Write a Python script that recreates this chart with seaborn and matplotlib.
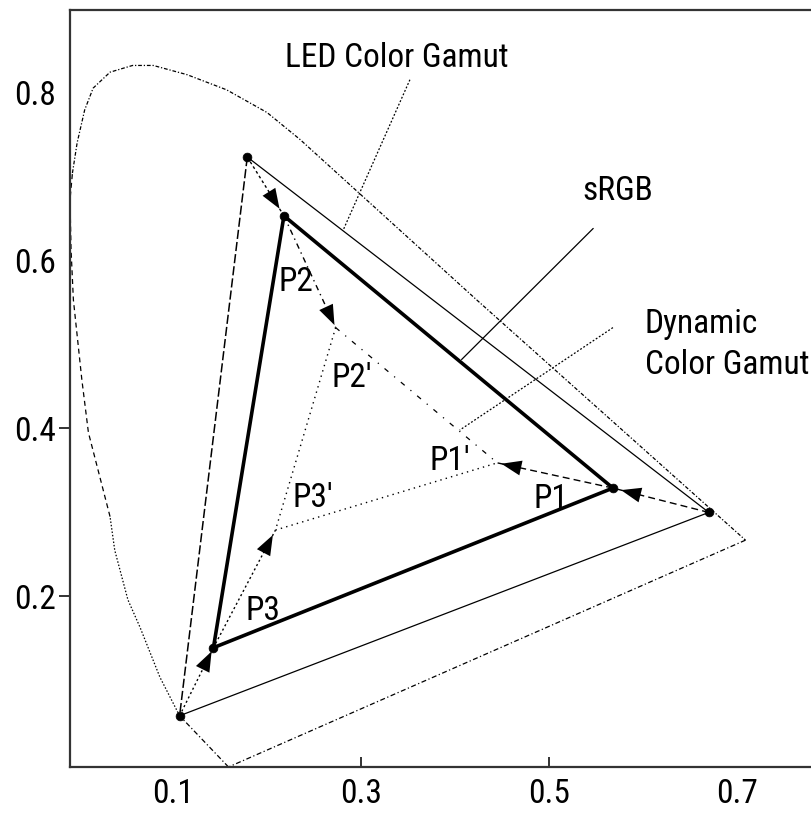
import matplotlib
matplotlib.use("Agg")
import matplotlib.pyplot as plt
from matplotlib import font_manager
import seaborn as sns

# spectral locus, traced clockwise from the violet end
locus_x = [0.159, 0.107, 0.086, 0.065, 0.052, 0.038, 0.033, 0.010, 0.003, -0.006,
           -0.0085, -0.0096, -0.007, -0.002, 0.006, 0.015, 0.033, 0.057, 0.079, 0.115,
           0.157, 0.200, 0.235, 0.423, 0.709, 0.159]
locus_y = [-0.003, 0.058, 0.104, 0.163, 0.196, 0.255, 0.295, 0.395, 0.458, 0.553,
           0.613, 0.672, 0.704, 0.740, 0.779, 0.805, 0.824, 0.832, 0.832, 0.821,
           0.803, 0.776, 0.744, 0.553, 0.267, -0.003]

# triangle vertices: red, green, blue
led_x = [0.670, 0.179, 0.107]
led_y = [0.300, 0.723, 0.058]
srgb_x = [0.568, 0.218, 0.143]
srgb_y = [0.329, 0.653, 0.139]
dyn_x = [0.445, 0.273, 0.209]
dyn_y = [0.359, 0.520, 0.279]

# leader lines for the labels
leaders = {
    "LED Color Gamut": ([0.352, 0.281], [0.815, 0.636]),
    "sRGB": ([0.547, 0.407], [0.638, 0.482]),
    "Dynamic Color Gamut": ([0.568, 0.405], [0.520, 0.398]),
}

x_ticks = [0.1, 0.3, 0.5, 0.7]
y_ticks = [0.2, 0.4, 0.6, 0.8]

sns.set_style("ticks")
installed = {f.name for f in font_manager.fontManager.ttflist}
narrow = [n for n in ["Liberation Sans Narrow", "Roboto Condensed", "DejaVu Sans Condensed"]
          if n in installed]
if narrow:
    plt.rcParams["font.family"] = [narrow[0], "DejaVu Sans"]
    fs, tfs = 24, 24
else:
    plt.rcParams["font.family"] = ["Liberation Sans", "DejaVu Sans"]
    fs, tfs = 21, 21
plt.rcParams["text.color"] = "black"
plt.rcParams["xtick.labelcolor"] = "black"
plt.rcParams["ytick.labelcolor"] = "black"

fig = plt.figure(figsize=(8.11, 8.14), dpi=100)
ax = fig.add_axes([70 / 811, 47 / 814, 741 / 811, 757 / 814])

# locus drawn in pieces, each with its own dash pattern
segments = [
    (0, 1, (0, (4, 2, 1, 2))),
    (1, 6, (0, (1.2, 1.5))),
    (6, 12, (0, (4, 3))),
    (12, 24, (0, (3, 1.5, 1, 1.5))),
    (24, 25, (0, (4, 2, 1, 2))),
]
for a, b, ls in segments:
    sns.lineplot(x=locus_x[a:b + 1], y=locus_y[a:b + 1], sort=False, estimator=None,
                 color="k", linewidth=0.9, linestyle=ls, ax=ax)

# LED gamut triangle
ax.plot([led_x[1], led_x[2]], [led_y[1], led_y[2]], color="k", lw=1.1, ls=(0, (6, 2)))
ax.plot([led_x[1], led_x[0]], [led_y[1], led_y[0]], color="k", lw=0.9)
ax.plot([led_x[2], led_x[0]], [led_y[2], led_y[0]], color="k", lw=0.9)

# sRGB triangle, bold
sns.lineplot(x=srgb_x + srgb_x[:1], y=srgb_y + srgb_y[:1], sort=False, estimator=None,
             color="k", linewidth=2.6, ax=ax)

# dynamic gamut triangle
ax.plot([dyn_x[1], dyn_x[0]], [dyn_y[1], dyn_y[0]], color="k", lw=0.9, ls=(0, (4, 6, 1, 6)))
ax.plot([dyn_x[1], dyn_x[2]], [dyn_y[1], dyn_y[2]], color="k", lw=1, ls=(0, (1, 3)))
ax.plot([dyn_x[2], dyn_x[0]], [dyn_y[2], dyn_y[0]], color="k", lw=1, ls=(0, (1, 3)))


def arrow(x0, y0, x1, y1, ls, shrink):
    # shaft drawn as a styled line, head as a solid filled triangle
    ax.plot([x0, x1], [y0, y1], color="k", lw=1, ls=ls)
    ax.annotate("", xy=(x1, y1), xytext=(x0, y0),
                arrowprops=dict(arrowstyle="-|>,head_length=0.8,head_width=0.3",
                                lw=0, facecolor="k", shrinkA=0,
                                shrinkB=shrink, mutation_scale=18))


# shift arrows: LED -> sRGB -> dynamic
arrow(led_x[1], led_y[1], srgb_x[1], srgb_y[1], (0, (2, 2)), 6)
arrow(srgb_x[1], srgb_y[1], dyn_x[1], dyn_y[1], (0, (4, 3, 1, 3)), 2)
arrow(led_x[0], led_y[0], srgb_x[0], srgb_y[0], (0, (5, 3)), 6)
arrow(srgb_x[0], srgb_y[0], dyn_x[0], dyn_y[0], (0, (5, 3)), 3)
arrow(led_x[2], led_y[2], srgb_x[2], srgb_y[2], (0, (1.5, 2)), 3)
arrow(srgb_x[2], srgb_y[2], dyn_x[2], dyn_y[2], (0, (1.5, 2)), 4)

sns.scatterplot(x=led_x + srgb_x, y=led_y + srgb_y, color="k", s=40, marker="o",
                edgecolor="k", zorder=5, ax=ax)

# leaders
lead_styles = {"LED Color Gamut": (0, (1.5, 1.5)), "sRGB": "-",
               "Dynamic Color Gamut": (0, (1.5, 1.5))}
for name, (lx, ly) in leaders.items():
    ax.plot(lx, ly, color="k", lw=0.9, ls=lead_styles[name])

ax.text(0.219, 0.830, "LED Color Gamut", fontsize=fs, va="baseline")
ax.text(0.535, 0.672, "sRGB", fontsize=fs, va="baseline")
ax.text(0.602, 0.514, "Dynamic", fontsize=fs, va="baseline")
ax.text(0.602, 0.465, "Color Gamut", fontsize=fs, va="baseline")
ax.text(0.212, 0.564, "P2", fontsize=fs, va="baseline")
ax.text(0.269, 0.449, "P2'", fontsize=fs, va="baseline")
ax.text(0.373, 0.351, "P1'", fontsize=fs, va="baseline")
ax.text(0.483, 0.305, "P1", fontsize=fs, va="baseline")
ax.text(0.227, 0.307, "P3'", fontsize=fs, va="baseline")
ax.text(0.177, 0.172, "P3", fontsize=fs, va="baseline")

ax.set_xlim(-0.0096, 0.7787)
ax.set_ylim(-0.003, 0.898)
ax.set_xticks(x_ticks)
ax.set_yticks(y_ticks)
ax.set_xticklabels([f"{v:.1f}" for v in x_ticks])
ax.set_yticklabels([f"{v:.1f}" for v in y_ticks])
ax.tick_params(axis="x", direction="in", length=7, width=1.3, pad=8, labelsize=tfs, color="#222")
ax.tick_params(axis="y", direction="out", length=8, width=1.3, pad=2, labelsize=tfs, color="#222")

# only some tick marks are drawn in the original
for i, t in enumerate(ax.xaxis.get_major_ticks()):
    if x_ticks[i] in (0.1, 0.7):
        t.tick1line.set_visible(False)
for i, t in enumerate(ax.yaxis.get_major_ticks()):
    if y_ticks[i] in (0.6, 0.8):
        t.tick1line.set_visible(False)

for side in ["left", "bottom", "top"]:
    ax.spines[side].set_visible(True)
    ax.spines[side].set_linewidth(1.6)
    ax.spines[side].set_color("#333333")
ax.spines["right"].set_visible(False)

fig.savefig("out.png", dpi=100)
